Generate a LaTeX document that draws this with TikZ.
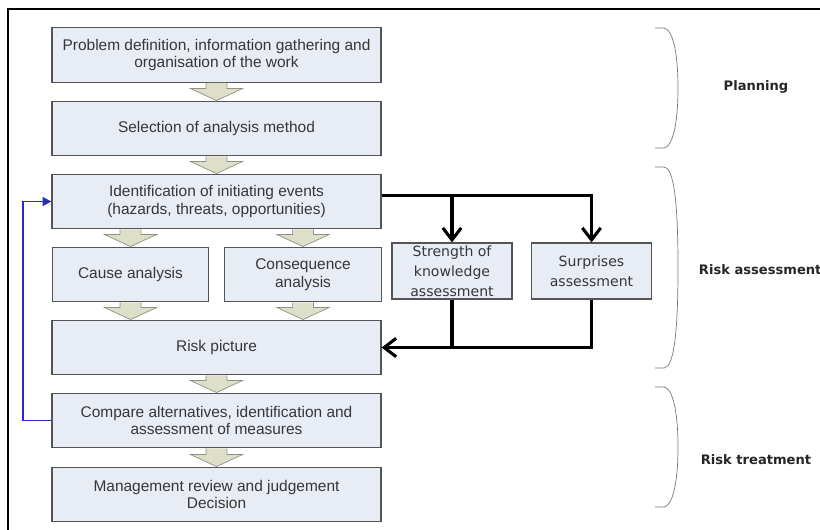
\documentclass[tikz,border=0pt]{standalone}
\usepackage{fontspec}
\setmainfont{Liberation Sans}
\newfontfamily\labelfont{DejaVu Sans}
\usepackage{tikz}
\usetikzlibrary{arrows.meta,calc}
\definecolor{boxfill}{RGB}{232,236,244}
\definecolor{boxline}{RGB}{85,85,85}
\definecolor{boxtext}{RGB}{55,55,55}
\definecolor{arrowfill}{RGB}{221,223,201}
\definecolor{arrowline}{RGB}{145,145,135}
\definecolor{loopblue}{RGB}{40,40,205}
\definecolor{bracegrey}{RGB}{120,120,120}
% grey block arrow between two stacked boxes (x of the upper box)
\newcommand{\blockdown}[2]{%
  \draw[blockarrow] let \p1=(#1.south), \p2=(#2.north) in
    (\x1-0.26cm,\y1) -- (\x1-0.26cm,\y2+0.3cm) -- (\x1-0.65cm,\y2+0.3cm)
    -- (\x1,\y2) -- (\x1+0.65cm,\y2+0.3cm) -- (\x1+0.26cm,\y2+0.3cm)
    -- (\x1+0.26cm,\y1);}
% same, but at the x of the lower box
\newcommand{\blockinto}[2]{%
  \draw[blockarrow] let \p1=(#2.north), \p2=(#1.south) in
    (\x1-0.26cm,\y2) -- (\x1-0.26cm,\y1+0.3cm) -- (\x1-0.65cm,\y1+0.3cm)
    -- (\x1,\y1) -- (\x1+0.65cm,\y1+0.3cm) -- (\x1+0.26cm,\y1+0.3cm)
    -- (\x1+0.26cm,\y2);}
% thin bracket on the right, from top y to bottom y (pixels)
\newcommand{\sidebracket}[2]{%
  \draw[bracket] (655,#1) -- (664,#1)
    .. controls (672,#1+1) and (678,#1+22) .. (678,{(#1+#2)/2})
    .. controls (678,#2-22) and (672,#2-1) .. (664,#2) -- (655,#2);}

\begin{document}
\begin{tikzpicture}[x=0.025cm,y=-0.025cm,
    every node/.style={font=\fontsize{11}{12.6}\selectfont},
    stagebox/.style={draw=boxline,fill=boxfill,line width=0.8pt,align=center,
      text=boxtext,inner sep=0pt,minimum width=8.225cm,minimum height=1.37cm},
    halfbox/.style={stagebox,minimum width=3.91cm},
    sidebox/.style={stagebox,minimum width=3cm,minimum height=1.4cm,
      font=\labelfont\fontsize{10}{14.2}\selectfont},
    blockarrow/.style={draw=arrowline,fill=arrowfill,line width=0.5pt,line join=miter},
    know/.style={line width=2.2pt,-{Straight Barb[length=3mm,width=4.6mm,line width=2.2pt]}},
    feedback/.style={draw=loopblue,line width=1.4pt,-{Triangle[length=2.2mm,width=2.2mm]}},
    bracket/.style={draw=bracegrey,line width=0.5pt},
    phase/.style={text=black!85,font=\labelfont\bfseries\fontsize{9.3}{11}\selectfont}]
  \clip (0,0) rectangle (820,529);
  \draw[line width=1.2pt] (8,9) rectangle (830,540);

  \node[stagebox] (prob) at (216.5,55)
    {Problem definition, information gathering and\\organisation of the work};
  \node[stagebox] (sel) at (216.5,128.5) {Selection of analysis method};
  \node[stagebox] (ident) at (216.5,201.5)
    {Identification of initiating events\\(hazards, threats, opportunities)};
  \node[halfbox] (cause) at (130.5,274.5) {Cause analysis};
  \node[halfbox] (cons) at (303,274.5) {Consequence\\analysis};
  \node[stagebox] (riskpic) at (216.5,347.5) {Risk picture};
  \node[stagebox] (cmp) at (216.5,420.5)
    {Compare alternatives, identification and\\assessment of measures};
  \node[stagebox] (mgmt) at (216.5,494.5)
    {Management review and judgement\\Decision};
  \node[sidebox] (sok) at (452,271) {Strength of\\knowledge\\assessment};
  \node[sidebox] (surp) at (591.5,271) {Surprises\\assessment};

  \blockdown{prob}{sel}
  \blockdown{sel}{ident}
  \blockinto{ident}{cause}
  \blockinto{ident}{cons}
  \blockdown{cause}{riskpic}
  \blockdown{cons}{riskpic}
  \blockdown{riskpic}{cmp}
  \blockdown{cmp}{mgmt}

  % knowledge and surprises branch
  \coordinate (tap) at ([yshift=0.15cm]ident.east);
  \draw[know] (tap) -| (surp.north);
  \draw[know] (tap -| sok.north) -- (sok.north);
  \draw[know] (surp.south) |- (riskpic.east);
  \draw[line width=2.2pt] (sok.south) -- (sok.south |- riskpic.east);

  % feedback loop
  \draw[feedback] (cmp.west) -- ++(-0.7cm,0) |- (ident.west);

  % phases
  \sidebracket{28}{148}
  \sidebracket{167}{368}
  \sidebracket{387}{507}
  \node[phase] (plan) at (756,87) {Planning};
  \node[phase,anchor=west] (assess) at (694,270) {Risk assessment};
  \node[phase] (treat) at (756,460) {Risk treatment};
\end{tikzpicture}
\end{document}
